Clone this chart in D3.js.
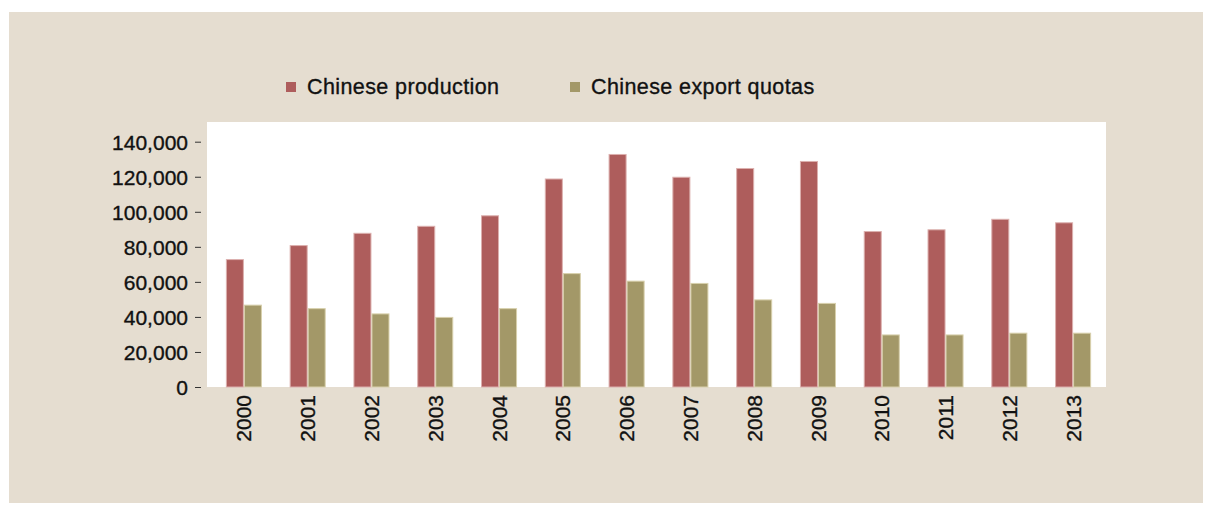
<!DOCTYPE html>
<html>
<head>
<meta charset="utf-8">
<script src="https://cdn.jsdelivr.net/npm/d3@7"></script>
<style>
  html, body { margin: 0; padding: 0; background: #ffffff; }
  svg { display: block; }
  text { font-family: "Liberation Sans", Arial, Helvetica, sans-serif; fill: #111; stroke: #111; stroke-width: 0.35px; }
</style>
</head>
<body>
<svg id="chart" width="1205" height="505"></svg>
<script>
// Rare earth output vs export quotas, tonnes
const years = ["2000","2001","2002","2003","2004","2005","2006","2007","2008","2009","2010","2011","2012","2013"];
const production = [73000, 81000, 88000, 92000, 98000, 119000, 133000, 120000, 125000, 129000, 89000, 90000, 96000, 94000];
const exportQuotas = [47000, 45000, 42000, 40000, 45000, 65000, 60700, 59400, 50000, 48000, 30000, 30000, 31000, 31000];
const yTicks = [0, 20000, 40000, 60000, 80000, 100000, 120000, 140000];
const seriesNames = ["Chinese production", "Chinese export quotas"];

const colors = ["#ae5d5c", "#a39868"];
const edges = ["#dcb0ae", "#d8d0ac"];

const svg = d3.select("#chart");

// beige panel behind everything
svg.append("rect")
  .attr("x", 9).attr("y", 12)
  .attr("width", 1194).attr("height", 491)
  .attr("fill", "#e5ddd0");

const plot = { left: 207, right: 1106, top: 122, bottom: 387 };

// white plotting area
svg.append("rect")
  .attr("x", plot.left).attr("y", plot.top)
  .attr("width", plot.right - plot.left).attr("height", plot.bottom - plot.top)
  .attr("fill", "#ffffff");

const y = d3.scaleLinear()
  .domain([0, 140000])
  .range([plot.bottom, 141.7]);

const x = d3.scaleBand()
  .domain(years)
  .range([212, 1105])
  .paddingInner(0.435)
  .paddingOuter(0.2175);

const xSub = d3.scaleBand()
  .domain([0, 1])
  .range([0, x.bandwidth()]);

const rows = years.map((yr, i) => ({ year: yr, values: [production[i], exportQuotas[i]] }));

const groups = svg.append("g").selectAll("g")
  .data(rows)
  .join("g")
  .attr("transform", d => `translate(${x(d.year)},0)`);

groups.selectAll("rect")
  .data(d => d.values.map((v, k) => ({ v, k })))
  .join("rect")
  .attr("x", d => xSub(d.k) + 0.5)
  .attr("width", xSub.bandwidth() - 1)
  .attr("y", d => y(d.v) + 0.5)
  .attr("height", d => y(0) - y(d.v) - 0.5)
  .attr("fill", d => colors[d.k])
  .attr("stroke", d => edges[d.k])
  .attr("stroke-width", 1);

// y axis: short ticks outside the white area, no domain line
const yAxis = d3.axisLeft(y)
  .tickValues(yTicks)
  .tickSize(6)
  .tickPadding(7)
  .tickFormat(d3.format(","));

const yg = svg.append("g")
  .attr("transform", "translate(201,0)")
  .call(yAxis);
yg.select(".domain").remove();
yg.selectAll(".tick line").attr("stroke", "#333").attr("stroke-width", 1);
yg.selectAll(".tick text")
  .attr("font-size", 21)
  .attr("font-family", "\"Liberation Sans\", Arial, sans-serif")
  .attr("fill", "#111")
  .attr("dy", "0.36em");

// x axis: rotated year labels
const xAxis = d3.axisBottom(x).tickSize(0).tickPadding(0);
const xg = svg.append("g")
  .attr("transform", `translate(0,${plot.bottom})`)
  .call(xAxis);
xg.select(".domain").remove();
xg.selectAll(".tick text")
  .attr("font-size", 21)
  .attr("font-family", "\"Liberation Sans\", Arial, sans-serif")
  .attr("fill", "#111")
  .attr("text-anchor", "end")
  .attr("transform", "translate(0,8) rotate(-90)")
  .attr("x", 0)
  .attr("y", 0)
  .attr("dy", "0.36em");

// legend
const legendItems = [
  { name: seriesNames[0], color: colors[0], sx: 286, tx: 307 },
  { name: seriesNames[1], color: colors[1], sx: 570, tx: 591 }
];
const lg = svg.append("g");
legendItems.forEach(it => {
  lg.append("rect")
    .attr("x", it.sx).attr("y", 82)
    .attr("width", 10).attr("height", 10)
    .attr("fill", it.color);
  lg.append("text")
    .attr("x", it.tx).attr("y", 94)
    .attr("font-size", 21.5)
    .attr("letter-spacing", "0.4px")
    .attr("fill", "#111")
    .text(it.name);
});
</script>
</body>
</html>
